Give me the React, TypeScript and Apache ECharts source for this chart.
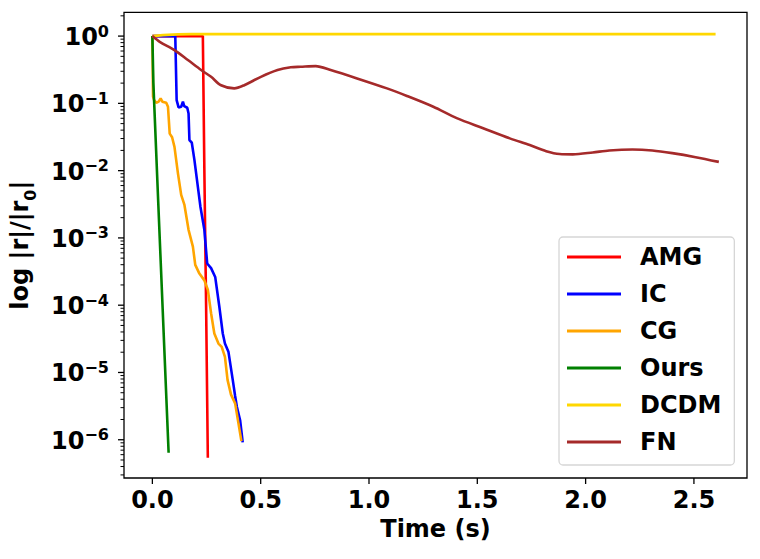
import React, { useEffect, useRef } from "react";
import * as echarts from "echarts";

const FONT = "DejaVu Sans";

// ---- data (time in s, residual ratio) ----
const amgT = [0, 0.233, 0.24, 0.248, 0.256];
const amgV = [1, 1, 1e-2, 1e-4, 5.4e-7];

const icT = [0, 0.1057, 0.112, 0.121, 0.133, 0.141, 0.147, 0.161, 0.167, 0.171, 0.182, 0.194, 0.21, 0.222, 0.24, 0.253, 0.271, 0.29, 0.309, 0.325, 0.335, 0.351, 0.371, 0.382, 0.39, 0.405, 0.417];
const icV = [1, 1, 0.112, 0.0871, 0.0891, 0.106, 0.0912, 0.0861, 0.0708, 0.0285, 0.026, 0.01445, 0.00575, 0.00288, 0.00132, 0.000417, 0.000355, 0.000263, 9.55e-5, 3.8e-5, 2.69e-5, 2.04e-5, 7.76e-6, 4.47e-6, 3.09e-6, 1.95e-6, 9.12e-7];

const cgT = [0, 0.003, 0.008, 0.018, 0.029, 0.038, 0.046, 0.064, 0.072, 0.08, 0.091, 0.102, 0.118, 0.133, 0.148, 0.167, 0.187, 0.198, 0.217, 0.24, 0.256, 0.271, 0.286, 0.305, 0.32, 0.335, 0.347, 0.363, 0.382, 0.396, 0.411];
const cgV = [1, 0.126, 0.112, 0.102, 0.106, 0.119, 0.106, 0.102, 0.0891, 0.0355, 0.0313, 0.0226, 0.00912, 0.00437, 0.00309, 0.00132, 0.000741, 0.000398, 0.000295, 0.000234, 0.00017, 7.59e-5, 3.8e-5, 2.69e-5, 2.4e-5, 1.7e-5, 7.76e-6, 4.68e-6, 3.47e-6, 1.86e-6, 9.55e-7];

const oursT = [0, 0.0046, 0.0267, 0.075];
const oursV = [1, 0.2, 3.6e-3, 6.4e-7];

const dcdmT = [0, 0.049, 0.118, 0.179, 2.6];
const dcdmV = [1, 1.035, 1.059, 1.07, 1.07];

const fnT = [0, 0.034, 0.102, 0.164, 0.225, 0.271, 0.317, 0.378, 0.424, 0.501, 0.578, 0.639, 0.685, 0.754, 0.823, 0.945, 1.083, 1.175, 1.297, 1.405, 1.527, 1.65, 1.742, 1.818, 1.88, 1.941, 2.033, 2.109, 2.216, 2.308, 2.4, 2.508, 2.615];
const fnV = [1, 0.822, 0.617, 0.44, 0.313, 0.248, 0.186, 0.167, 0.186, 0.248, 0.313, 0.344, 0.35, 0.358, 0.313, 0.235, 0.167, 0.129, 0.0891, 0.0603, 0.0427, 0.0302, 0.024, 0.0195, 0.01766, 0.01746, 0.01862, 0.01995, 0.02065, 0.01995, 0.0182, 0.01585, 0.01349];

const seriesNames = ["AMG", "IC", "CG", "Ours", "DCDM", "FN"];
const seriesColors = ["#ff0000", "#0000ff", "#ffa500", "#008000", "#ffd700", "#a52a2a"];
const seriesTimes = [amgT, icT, cgT, oursT, dcdmT, fnT];
const seriesValues = [amgV, icV, cgV, oursV, dcdmV, fnV];

// ---- axes ----
const X_MIN = -0.131;
const X_MAX = 2.745;
const Y_MIN = 2.7e-7;
const Y_MAX = 2.25;
const X_TICKS = [0, 0.5, 1.0, 1.5, 2.0, 2.5];
const Y_MAJOR = [1e-6, 1e-5, 1e-4, 1e-3, 1e-2, 1e-1, 1];
const Y_MINOR_MULT = [2, 3, 4, 5, 6, 7, 8, 9];
const Y_DECADES = [-7, -6, -5, -4, -3, -2, -1, 0];

export default function App() {
  const ref = useRef<HTMLDivElement>(null);

  useEffect(() => {
    if (!ref.current) return;
    const chart = echarts.init(ref.current, null, { renderer: "svg" });

    const tickData: number[][] = [];
    Y_MAJOR.forEach((v) => tickData.push([X_MIN, v, 0]));
    Y_DECADES.forEach((d) =>
      Y_MINOR_MULT.forEach((m) => {
        const v = m * Math.pow(10, d);
        if (v > Y_MIN && v < Y_MAX) tickData.push([X_MIN, v, 1]);
      })
    );
    X_TICKS.forEach((t) => tickData.push([t, Y_MIN, 2]));

    const lineSeries = seriesNames.map((name, i) => ({
      name,
      type: "line",
      data: seriesTimes[i].map((t, j) => [t, seriesValues[i][j]]),
      symbol: "none",
      color: seriesColors[i],
      smooth: name === "FN" ? 0.3 : false,
      lineStyle: { width: 2.6, color: seriesColors[i] },
      itemStyle: { color: seriesColors[i] },
    }));

    const option: any = {
      animation: false,
      grid: {
        show: true,
        left: 122.7,
        right: 13,
        top: 12.4,
        bottom: 81,
        borderColor: "#000",
        borderWidth: 1.3,
        backgroundColor: "transparent",
      },
      xAxis: {
        type: "value",
        min: X_MIN,
        max: X_MAX,
        axisLine: { show: false },
        axisTick: { show: false },
        splitLine: { show: false },
        axisLabel: {
          customValues: X_TICKS,
          formatter: (v: number) => v.toFixed(1),
          fontFamily: FONT,
          fontWeight: "bold",
          fontSize: 24,
          color: "#000",
          margin: 10,
        },
        name: "Time (s)",
        nameLocation: "middle",
        nameGap: 35,
        nameTextStyle: { fontFamily: FONT, fontWeight: "bold", fontSize: 24, color: "#000" },
      },
      yAxis: {
        type: "log",
        logBase: 10,
        min: Y_MIN,
        max: Y_MAX,
        axisLine: { show: false },
        axisTick: { show: false },
        splitLine: { show: false },
        minorTick: { show: false },
        axisLabel: {
          margin: 15,
          formatter: (v: number) => {
            const e = Math.log10(v);
            const r = Math.round(e);
            if (Math.abs(e - r) > 1e-6) return "";
            return `{b|10}{s|${r < 0 ? "\u2212" + -r : r}}`;
          },
          rich: {
            b: { fontFamily: FONT, fontWeight: "bold", fontSize: 24, lineHeight: 26, verticalAlign: "bottom", color: "#000" },
            s: { fontFamily: FONT, fontWeight: "bold", fontSize: 16, lineHeight: 16, verticalAlign: "top", color: "#000" },
          },
        },
        name: "{a|log |r|/|r}{sub|0}{a||}",
        nameLocation: "middle",
        nameRotate: 90,
        nameGap: 86,
        nameTextStyle: {
          rich: {
            a: { fontFamily: FONT, fontWeight: "bold", fontSize: 24, lineHeight: 30, verticalAlign: "top", color: "#000" },
            sub: { fontFamily: FONT, fontWeight: "bold", fontSize: 16, lineHeight: 16, verticalAlign: "bottom", color: "#000" },
          },
        },
      },
      legend: {
        data: seriesNames,
        orient: "vertical",
        left: 559,
        top: 237,
        icon: "rect",
        itemWidth: 54,
        itemHeight: 2.8,
        itemGap: 7,
        selectedMode: false,
        padding: [5, 13, 8, 8],
        borderColor: "#d6d6d6",
        borderWidth: 1.3,
        borderRadius: 4,
        backgroundColor: "rgba(255,255,255,0.8)",
        textStyle: {
          fontFamily: FONT,
          fontWeight: "bold",
          fontSize: 24,
          lineHeight: 30,
          color: "#000",
          padding: [0, 0, 0, 14],
        },
      },
      series: [
        ...lineSeries,
        {
          type: "custom",
          name: "ticks",
          silent: true,
          clip: false,
          data: tickData,
          renderItem: (params: any, api: any) => {
            const p = api.coord([api.value(0), api.value(1)]);
            const kind = api.value(2);
            let shape;
            if (kind === 0) shape = { x1: p[0] - 6, y1: p[1], x2: p[0], y2: p[1] };
            else if (kind === 1) shape = { x1: p[0] - 3.5, y1: p[1], x2: p[0], y2: p[1] };
            else shape = { x1: p[0], y1: p[1], x2: p[0], y2: p[1] + 6 };
            return {
              type: "line",
              shape,
              style: { stroke: "#000", lineWidth: kind === 1 ? 1.0 : 1.3 },
            };
          },
        },
      ],
    };

    chart.setOption(option);
    return () => chart.dispose();
  }, []);

  return (
    <div
      ref={ref}
      style={{ position: "fixed", left: 0, top: 0, width: 760, height: 559, background: "#fff" }}
    />
  );
}
